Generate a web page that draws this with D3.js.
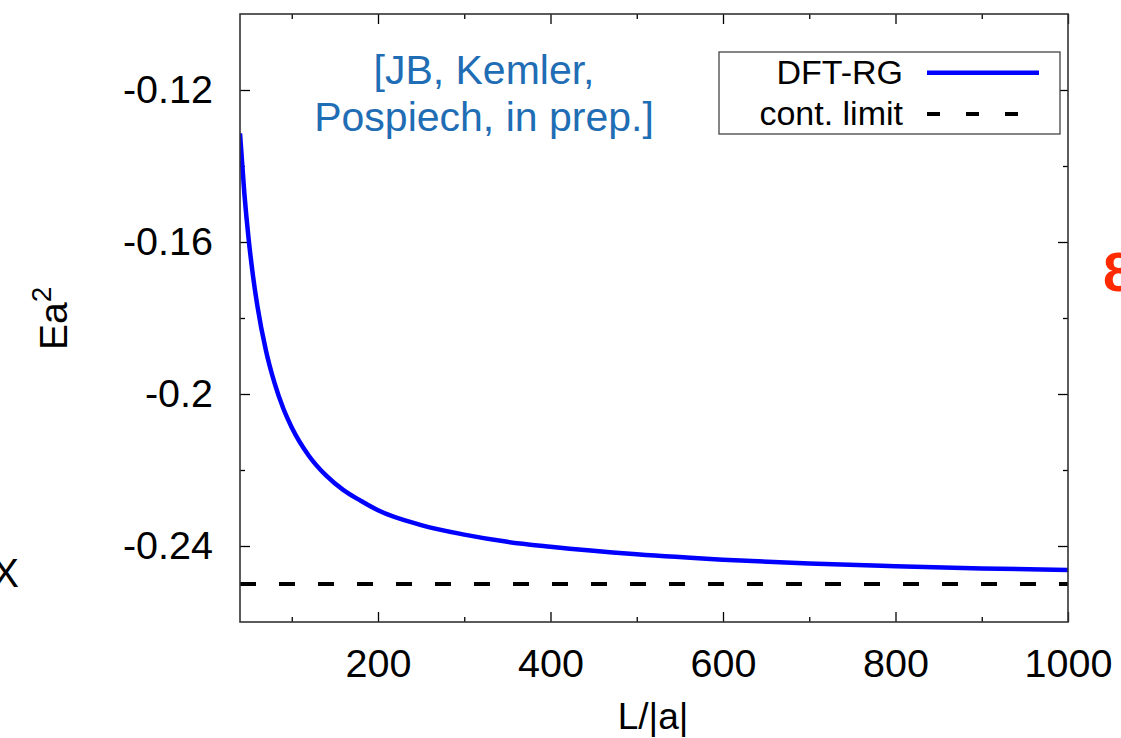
<!DOCTYPE html>
<html>
<head>
<meta charset="utf-8">
<script src="https://cdn.jsdelivr.net/npm/d3@7"></script>
<style>
  html, body { margin: 0; padding: 0; background: #fff; }
  svg { display: block; }
  text { font-family: "Liberation Sans", Arial, Helvetica, sans-serif; }
</style>
</head>
<body>
<svg id="chart" width="1121" height="738"></svg>
<script>
// ---- data ----
const sizeL = [40, 45, 50, 55, 60, 70, 80, 90, 100, 120, 140, 160, 180, 200, 250, 300, 350, 400, 500, 600, 700, 800, 900, 1000];
const energyDFTRG = [-0.1314, -0.1471, -0.1592, -0.1688, -0.1766, -0.1885, -0.1971, -0.2037, -0.2088, -0.2163, -0.2215, -0.2253, -0.2281, -0.2306, -0.2345, -0.2370, -0.2389, -0.2402, -0.2422, -0.2436, -0.2446, -0.2453, -0.2459, -0.2463];
const contLimit = -0.25;
const xDomain = [40, 1000];
const yDomain = [-0.26, -0.10];
const xMajorTicks = [200, 400, 600, 800, 1000];
const xMinorTicks = [100, 300, 500, 700, 900];
const yMajorTicks = [-0.12, -0.16, -0.2, -0.24];
const yMajorLabels = ["-0.12", "-0.16", "-0.2", "-0.24"];
const yMinorTicks = [-0.14, -0.18, -0.22];
const seriesNames = ["DFT-RG", "cont. limit"];
const noteLines = ["[JB, Kemler,", "Pospiech, in prep.]"];

// ---- layout ----
const svg = d3.select("#chart");
const pLeft = 240, pRight = 1068, pTop = 14, pBottom = 622;
const x = d3.scaleLinear().domain(xDomain).range([pLeft, pRight]);
const y = d3.scaleLinear().domain(yDomain).range([pBottom, pTop]);
const tickFont = 39.5;

const g = svg.append("g");

function styleAxis(sel) {
  sel.select(".domain").remove();
  sel.selectAll(".tick line").attr("stroke", "#000").attr("stroke-width", 1.3);
  sel.selectAll(".tick text").attr("fill", "#000").attr("font-size", tickFont)
     .attr("font-family", "'Liberation Sans', Arial, Helvetica, sans-serif");
}
g.append("g").attr("transform", `translate(0,${pBottom})`)
  .call(d3.axisBottom(x).tickValues(xMajorTicks).tickSize(-10).tickPadding(27).tickFormat(d3.format("d")))
  .call(styleAxis);
g.append("g").attr("transform", `translate(0,${pBottom})`)
  .call(d3.axisBottom(x).tickValues(xMinorTicks).tickSize(-5).tickFormat(""))
  .call(styleAxis);
g.append("g").attr("transform", `translate(0,${pTop})`)
  .call(d3.axisTop(x).tickValues(xMajorTicks).tickSize(-10).tickFormat(""))
  .call(styleAxis);
g.append("g").attr("transform", `translate(0,${pTop})`)
  .call(d3.axisTop(x).tickValues(xMinorTicks).tickSize(-5).tickFormat(""))
  .call(styleAxis);
g.append("g").attr("transform", `translate(${pLeft},0)`)
  .call(d3.axisLeft(y).tickValues(yMajorTicks).tickSize(-10).tickPadding(27).tickFormat((d, i) => yMajorLabels[i]))
  .call(styleAxis);
g.append("g").attr("transform", `translate(${pLeft},0)`)
  .call(d3.axisLeft(y).tickValues(yMinorTicks).tickSize(-5).tickFormat(""))
  .call(styleAxis);
g.append("g").attr("transform", `translate(${pRight},0)`)
  .call(d3.axisRight(y).tickValues(yMajorTicks).tickSize(-10).tickFormat(""))
  .call(styleAxis);
g.append("g").attr("transform", `translate(${pRight},0)`)
  .call(d3.axisRight(y).tickValues(yMinorTicks).tickSize(-5).tickFormat(""))
  .call(styleAxis);

svg.append("clipPath").attr("id", "clip").append("rect")
  .attr("x", pLeft).attr("y", pTop).attr("width", pRight - pLeft).attr("height", pBottom - pTop);

// continuum limit dashed line
g.append("line")
  .attr("clip-path", "url(#clip)")
  .attr("x1", x(xDomain[0])).attr("x2", x(xDomain[1]))
  .attr("y1", y(contLimit)).attr("y2", y(contLimit))
  .attr("stroke", "#000").attr("stroke-width", 4)
  .attr("stroke-dasharray", "16,23");

// DFT-RG curve
const line = d3.line().x((d, i) => x(sizeL[i])).y(d => y(d)).curve(d3.curveMonotoneX);
g.append("path")
  .datum(energyDFTRG)
  .attr("clip-path", "url(#clip)")
  .attr("d", line)
  .attr("fill", "none").attr("stroke", "#0000ff").attr("stroke-width", 4.5)
  .attr("stroke-linejoin", "round");

// frame
g.append("rect")
  .attr("x", pLeft).attr("y", pTop).attr("width", pRight - pLeft).attr("height", pBottom - pTop)
  .attr("fill", "none").attr("stroke", "#333").attr("stroke-width", 1.6);

// axis labels
svg.append("text").attr("x", 653).attr("y", 729).attr("text-anchor", "middle")
  .attr("font-size", 37).attr("fill", "#000").text("L/|a|");
const yl = svg.append("text").attr("transform", "translate(67,350) rotate(-90)")
  .attr("font-size", 39).attr("fill", "#000");
yl.append("tspan").text("Ea");
yl.append("tspan").attr("font-size", 28).attr("dy", -16).text("2");

// annotation
const note = svg.append("text").attr("text-anchor", "middle").attr("fill", "#1f6db4")
  .attr("font-size", 41);
noteLines.forEach((t, i) => {
  note.append("tspan").attr("x", 484).attr("y", 84 + i * 47).text(t);
});

// legend
const lg = svg.append("g");
lg.append("rect").attr("x", 719).attr("y", 52).attr("width", 341).attr("height", 82)
  .attr("fill", "#fff").attr("stroke", "#444").attr("stroke-width", 1.3);
const legendRows = [
  { name: seriesNames[0], color: "#0000ff", dash: null, w: 4.5 },
  { name: seriesNames[1], color: "#000", dash: "13,26", w: 4 }
];
legendRows.forEach((r, i) => {
  const cy = 72.7 + i * 41.3;
  lg.append("text").attr("x", 903).attr("y", cy + 11).attr("text-anchor", "end")
    .attr("font-size", 34).attr("fill", "#000").text(r.name);
  lg.append("line").attr("x1", 927).attr("x2", 1039).attr("y1", cy).attr("y2", cy)
    .attr("stroke", r.color).attr("stroke-width", r.w)
    .attr("stroke-dasharray", r.dash);
});

// fragments of neighbouring slide content at the edges
svg.append("text").attr("x", 19).attr("y", 587).attr("text-anchor", "end")
  .attr("font-size", 40).attr("fill", "#000").text("X");
svg.append("text").attr("x", 1103).attr("y", 291)
  .attr("font-size", 56).attr("font-weight", "bold").attr("fill", "#ff2a00").text("8");
</script>
</body>
</html>
